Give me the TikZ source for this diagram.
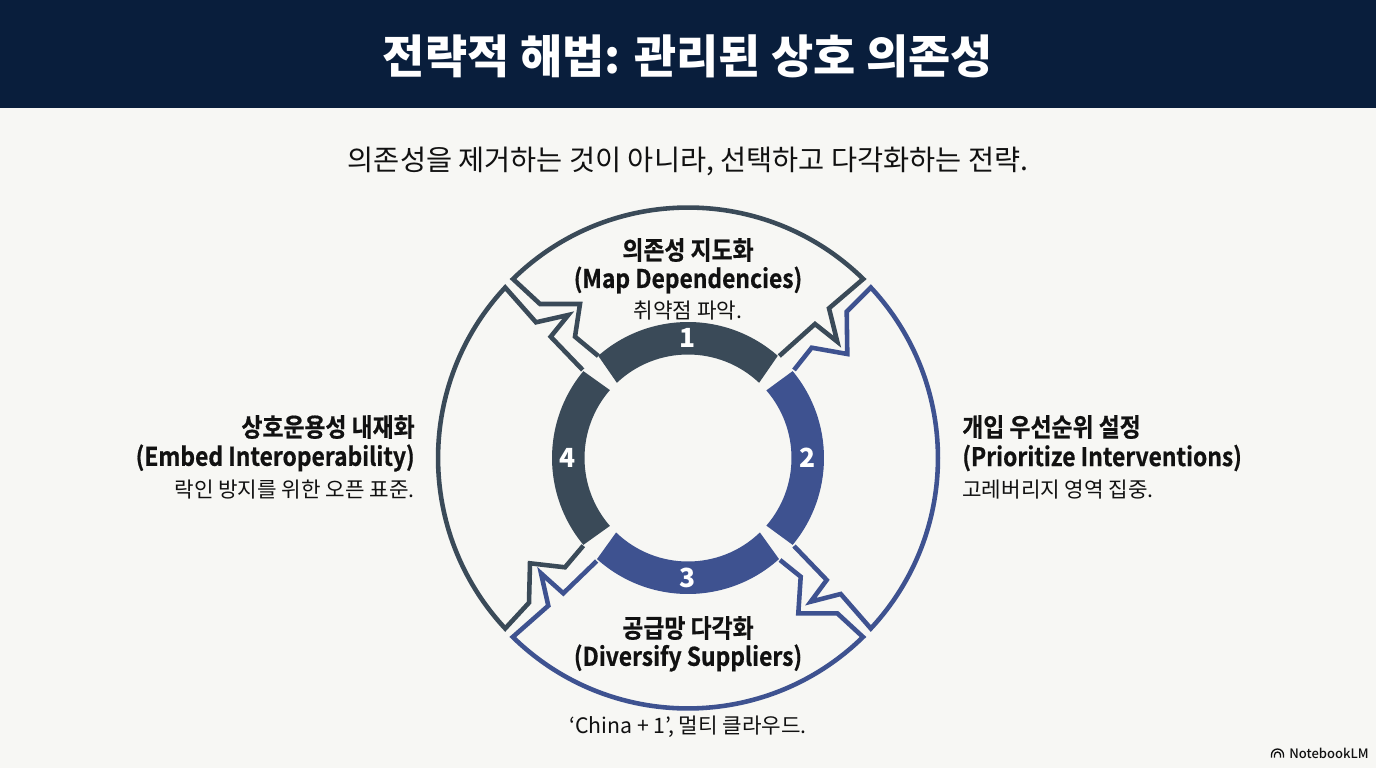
\documentclass[tikz,border=0pt]{standalone}
\usepackage{fontspec}
\setmainfont{Noto Sans CJK KR}
\newfontfamily\labfont[FakeStretch=0.89,FakeBold=0.6]{Noto Sans CJK KR Bold}
\newfontfamily\medfont{Noto Sans CJK KR Medium}
\usetikzlibrary{positioning}
\definecolor{paper}{RGB}{247,247,244}
\definecolor{navy}{RGB}{9,30,60}
\definecolor{slate}{RGB}{58,74,88}
\definecolor{indigo}{RGB}{62,82,144}
\definecolor{ink}{RGB}{17,17,17}
\newcommand{\ringseg}[5]{\fill[#1] ([shift={(#2:136)}]ctr) arc[start angle=#2,end angle=#3,radius=136] -- ([shift={(#4:103.5)}]ctr) arc[start angle=#4,end angle=#5,radius=103.5] -- cycle;}
\tikzset{
  x=0.02cm,y=0.02cm,
  seg/.style={line width=2.6pt,line join=miter,miter limit=10},
  headtxt/.style={inner sep=0pt,text=white,font=\fontsize{26.1}{30}\selectfont\bfseries},
  subtxt/.style={inner sep=0pt,text=ink,font=\fontsize{16.15}{20}\selectfont},
  boldlab/.style={inner sep=0pt,text=ink,font=\labfont\fontsize{14.6}{18}\selectfont},
  notelab/.style={inner sep=0pt,text=ink,font=\fontsize{12.1}{16}\selectfont},
  numlab/.style={inner sep=0pt,text=white,font=\bfseries\fontsize{15}{18}\selectfont}
}
\begin{document}
\begin{tikzpicture}
  \useasboundingbox (0,0) rectangle (1376,768);
  \fill[paper] (0,0) rectangle (1376,768);
  \fill[navy] (0,660) rectangle (1376,768);
  \node[headtxt] (title) at (688,712) {전략적 해법: 관리된 상호 의존성};
  \node[subtxt] (lead) at (688,607) {의존성을 제거하는 것이 아니라, 선택하고 다각화하는 전략.};
  \coordinate (ctr) at (688,310);
  % outlines
  \draw[seg,slate] (598.3,412) -- (575,431.3) -- (580,464) -- (540,464) -- (513,489) arc[start angle=134.4,end angle=45.6,radius=250.3] -- (829,459.7) -- (837.3,426.3) -- (815,444) -- (779.3,412);
  \draw[seg,indigo] (794,398) -- (811.7,420.3) -- (847.3,414) -- (846.7,456.3) -- (870.8,480.5) arc[start angle=43,end angle=-43,radius=250] -- (840.7,174) -- (810.7,166.3) -- (826.7,188) -- (794,222);
  \draw[seg,indigo] (780,208) -- (800.7,191.3) -- (798.3,154.7) -- (837.3,154.7) -- (863,131) arc[start angle=-45.6,end angle=-134.4,radius=250.3] -- (548.3,162.3) -- (541,194.7) -- (563.3,174.7) -- (596.7,207);
  \draw[seg,slate] (583.3,222.3) -- (565,200.7) -- (530,204.7) -- (529,165.3) -- (505.2,139.5) arc[start angle=223,end angle=137,radius=250] -- (536,445.7) -- (568.3,453) -- (550.7,431.3) -- (582.7,398);
  % inner ring
  \ringseg{slate}{48.7}{131.3}{133.4}{46.6}
  \ringseg{indigo}{39.7}{-39.7}{-40.8}{40.8}
  \ringseg{indigo}{-48}{-132}{-134}{-46}
  \ringseg{slate}{140.3}{219.7}{221}{139}
  \node[numlab] (n1) at (688,430) {1};
  \node[numlab] (n2) at (808,310) {2};
  \node[numlab] (n3) at (688,190) {3};
  \node[numlab] (n4) at (568,310) {4};
  % labels
  \node[boldlab] (maphead) at (688,518) {의존성 지도화};
  \node[boldlab] (mapeng) at (688,488) {(Map Dependencies)};
  \node[notelab] (mapnote) at (688,457) {취약점 파악.};
  \node[boldlab,anchor=west] (prihead) at (962,341) {개입 우선순위 설정};
  \node[boldlab,anchor=west] (prieng) at (962,310) {(Prioritize Interventions)};
  \node[notelab,anchor=west] (prinote) at (962,278) {고레버리지 영역 집중.};
  \node[boldlab] (divhead) at (688,140) {공급망 다각화};
  \node[boldlab] (diveng) at (688,110) {(Diversify Suppliers)};
  \node[notelab] (divnote) at (688,41) {‘China + 1’, 멀티 클라우드.};
  \node[boldlab,anchor=east] (embhead) at (415,341) {상호운용성 내재화};
  \node[boldlab,anchor=east] (embeng) at (415,310) {(Embed Interoperability)};
  \node[notelab,anchor=east] (embnote) at (415,278) {락인 방지를 위한 오픈 표준.};
  % watermark
  \draw[ink,line width=0.75pt] (1271.5,10.5) -- (1271.5,13) arc[start angle=180,end angle=0,radius=6] -- (1283.5,10.5);
  \draw[ink,line width=0.75pt] (1274.5,10.5) -- (1274.5,13) arc[start angle=180,end angle=0,radius=3] -- (1280.5,10.5);
  \node[inner sep=0pt,anchor=west,text=ink,font=\medfont\fontsize{7.4}{10}\selectfont] (mark) at (1289,14.5) {NotebookLM};
\end{tikzpicture}
\end{document}
